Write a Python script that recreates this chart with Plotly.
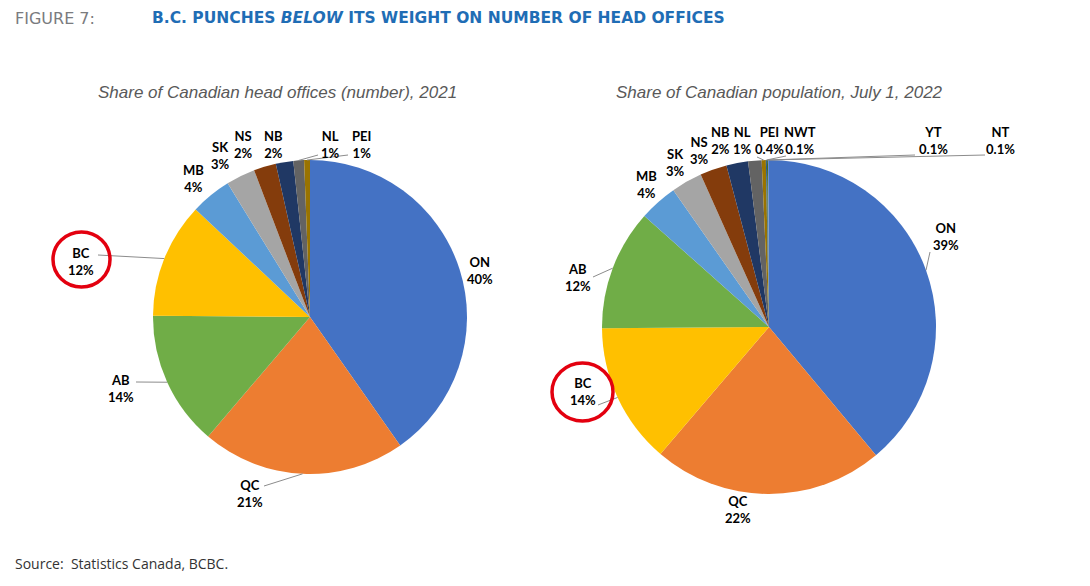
import math
import plotly.graph_objects as go

W, H = 1090, 586
# the page body adds an 8px margin, so all pixel positions are shifted back by it
PAGE_OFFSET = 8

# ---- data ----
office_labels = ["ON", "QC", "AB", "BC", "MB", "SK", "NS", "NB", "NL", "PEI"]
office_share = [40.3, 21.0, 13.9, 11.9, 4.2, 3.0, 2.3, 1.8, 1.1, 0.6]

pop_labels = ["ON", "QC", "BC", "AB", "MB", "SK", "NS", "NB", "NL", "PEI", "NWT", "YT", "NT"]
pop_share = [38.9, 22.3, 13.6, 11.7, 3.7, 3.0, 2.6, 2.1, 1.3, 0.4, 0.1, 0.1, 0.1]

colors = {
    "ON": "#4472C4", "QC": "#ED7D31", "AB": "#70AD47", "BC": "#FFC000",
    "MB": "#5B9BD5", "SK": "#A5A5A5", "NS": "#843C0C", "NB": "#203864",
    "NL": "#636363", "PEI": "#997300", "NWT": "#255E91", "YT": "#43682B",
    "NT": "#698ED0",
}

# pie geometry in pixels: centre x, centre y, radius
left_pie = (310, 317, 157)
right_pie = (769, 327, 167)

# label centres (px) and the point where the leader line leaves the label
left_pos = {
    "ON": (480, 270, None), "QC": (250, 493, (264, 486)), "AB": (121, 388, (136, 382)),
    "BC": (81, 261, (98, 255)), "MB": (193, 178, None), "SK": (220, 155, None),
    "NS": (243, 144, None), "NB": (273, 144, None), "NL": (330, 144, (318, 155)),
    "PEI": (361, 144, (348, 155)),
}
right_pos = {
    "ON": (946, 237, (930, 252)), "QC": (738, 509, None), "BC": (583, 391, (598, 405)),
    "AB": (578, 277, (593, 277)), "MB": (646, 184, None), "SK": (675, 162, None),
    "NS": (699, 151, None), "NB": (720, 141, None), "NL": (742, 141, None),
    "PEI": (769, 141, (757, 157)), "NWT": (800, 141, (786, 156)),
    "YT": (933, 141, (915, 155)), "NT": (1000, 141, (985, 155)),
}


def px(x):
    return (x - PAGE_OFFSET) / W


def py(y):
    return 1 - (y - PAGE_OFFSET) / H


def fmt(v, decimals):
    if decimals and v < 1:
        return f"{v:.1f}%"
    return f"{v:.0f}%"


fig = go.Figure()
annotations = []
shapes = []


def add_pie(labels, values, geom, pos, decimals):
    cx, cy, r = geom
    fig.add_trace(go.Pie(
        labels=labels,
        values=values,
        sort=False,
        direction="clockwise",
        rotation=0,
        textinfo="none",
        hoverinfo="label+percent",
        marker=dict(colors=[colors[l] for l in labels], line=dict(width=0)),
        domain=dict(x=[px(cx - r), px(cx + r)], y=[py(cy + r), py(cy - r)]),
        showlegend=False,
    ))
    total = sum(values)
    cum = 0
    for lab, v in zip(labels, values):
        mid = (cum + v / 2) / total * 2 * math.pi
        cum += v
        ex = cx + r * math.sin(mid)
        ey = cy - r * math.cos(mid)
        lx, ly, anchor = pos[lab]
        annotations.append(dict(
            x=px(lx), y=py(ly), xref="paper", yref="paper", showarrow=False,
            xanchor="center", yanchor="middle",
            text=f"<b>{lab}</b><br><b>{fmt(v, decimals)}</b>",
            font=dict(family="Lato", size=13, color="#000000"),
            align="center",
        ))
        if anchor:
            shapes.append(dict(
                type="line", xref="paper", yref="paper",
                x0=px(anchor[0]), y0=py(anchor[1]), x1=px(ex), y1=py(ey),
                line=dict(color="#8c8c8c", width=1),
            ))


add_pie(office_labels, office_share, left_pie, left_pos, False)
add_pie(pop_labels, pop_share, right_pie, right_pos, True)

# red circles round the BC labels
for x0, y0, x1, y1 in [(53, 232, 110, 287), (552, 363, 613, 421)]:
    shapes.append(dict(
        type="circle", xref="paper", yref="paper",
        x0=px(x0), x1=px(x1), y0=py(y1), y1=py(y0),
        line=dict(color="#E3000F", width=3.5),
    ))

# titles
annotations += [
    dict(x=px(13), y=py(18), xref="paper", yref="paper", xanchor="left", yanchor="middle",
         showarrow=False, text="FIGURE 7:",
         font=dict(family="DejaVu Sans", size=16, color="#7a7b7e")),
    dict(x=px(150), y=py(18), xref="paper", yref="paper", xanchor="left", yanchor="middle",
         showarrow=False,
         text="<b>B.C. PUNCHES <i>BELOW</i> ITS WEIGHT ON NUMBER OF HEAD OFFICES</b>",
         font=dict(family="DejaVu Sans", size=15.5, color="#1F6DB5")),
    dict(x=px(277), y=py(92), xref="paper", yref="paper", xanchor="center", yanchor="middle",
         showarrow=False, text="<i>Share of Canadian head offices (number), 2021</i>",
         font=dict(family="Liberation Sans", size=17, color="#595959")),
    dict(x=px(779), y=py(92), xref="paper", yref="paper", xanchor="center", yanchor="middle",
         showarrow=False, text="<i>Share of Canadian population, July 1, 2022</i>",
         font=dict(family="Liberation Sans", size=17, color="#595959")),
    dict(x=px(13), y=py(563), xref="paper", yref="paper", xanchor="left", yanchor="middle",
         showarrow=False, text="Source:  Statistics Canada, BCBC.",
         font=dict(family="Open Sans", size=14, color="#333333")),
]

fig.update_layout(
    width=W, height=H,
    margin=dict(l=0, r=0, t=0, b=0),
    paper_bgcolor="white",
    plot_bgcolor="white",
    annotations=annotations,
    shapes=shapes,
)

fig.write_html("out.html")
